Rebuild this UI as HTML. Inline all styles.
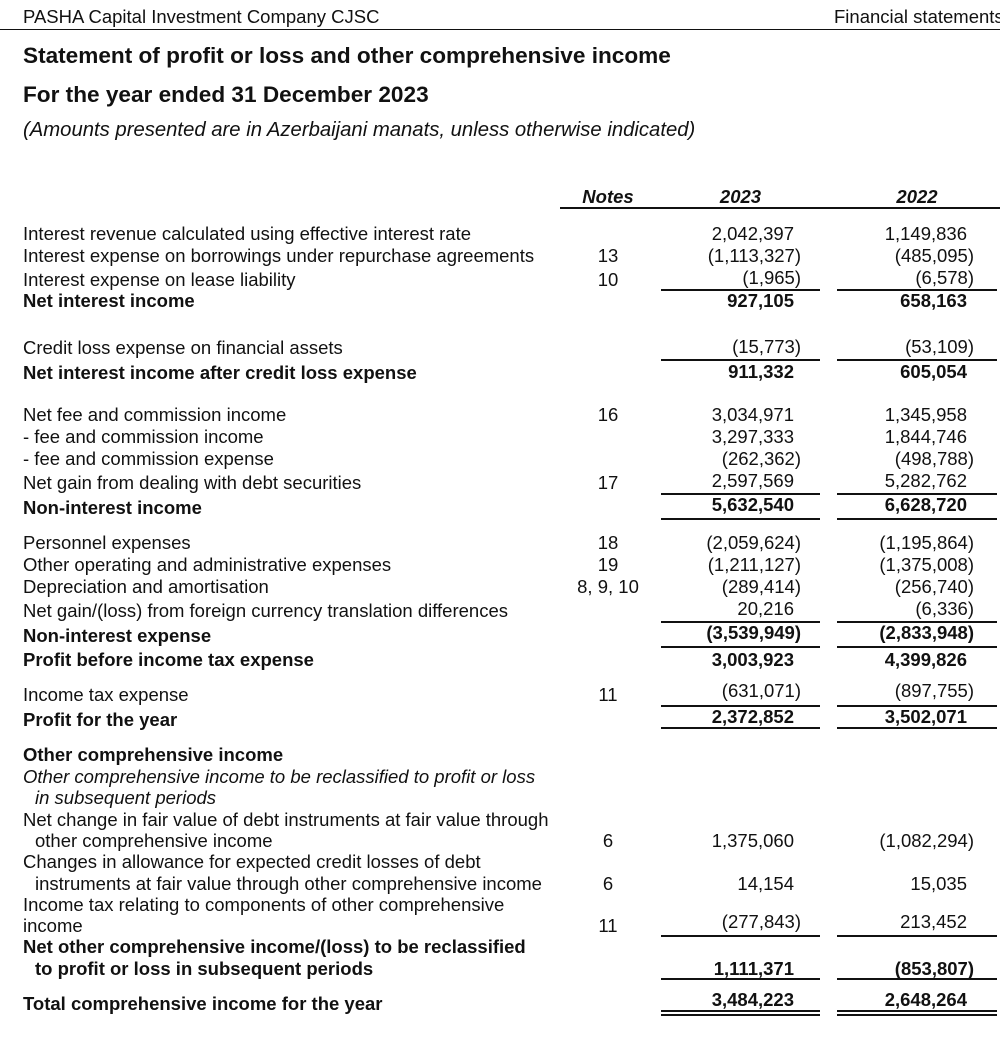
<!DOCTYPE html>
<html><head><meta charset="utf-8"><style>
body{margin:0;width:1000px;height:1061px;background:#fff;position:relative;overflow:hidden;font-family:"Liberation Sans",Arial,sans-serif;color:#111}
.t{position:absolute;height:20px;line-height:20px;font-size:18.5px;white-space:nowrap}
.l{left:23px}
.n{left:570px;width:76px;text-align:center}
.a{right:199px;text-align:right}
.b{right:26px;text-align:right}
.q{padding-right:7px}
.B{font-weight:bold}
.I{font-style:italic}
.h{position:absolute;height:2px;background:#111}
.c1{left:661px;width:159px}
.c2{left:837px;width:160px}
</style></head><body>
<div class="t" style="left:23px;top:7px;font-size:18.5px">PASHA Capital Investment Company CJSC</div>
<div class="t" style="left:834px;top:7px;font-size:18.5px">Financial statements</div>
<div class="h" style="left:0;top:29px;width:1000px;height:1px"></div>
<div class="t B" style="left:23px;top:44px;font-size:22.6px;height:24px;line-height:24px">Statement of profit or loss and other comprehensive income</div>
<div class="t B" style="left:23px;top:83px;font-size:22.6px;height:24px;line-height:24px">For the year ended 31 December 2023</div>
<div class="t I" style="left:23px;top:120px;font-size:20.3px">(Amounts presented are in Azerbaijani manats, unless otherwise indicated)</div>

<div class="t n B I" style="top:187px">Notes</div>
<div class="t B I" style="left:661px;width:159px;text-align:center;top:187px">2023</div>
<div class="t B I" style="left:837px;width:160px;text-align:center;top:187px">2022</div>
<div class="h" style="left:560px;top:207px;width:440px"></div>

<div class="t l" style="top:224px">Interest revenue calculated using effective interest rate</div>
<div class="t a q" style="top:224px">2,042,397</div><div class="t b q" style="top:224px">1,149,836</div>
<div class="t l" style="top:246px">Interest expense on borrowings under repurchase agreements</div>
<div class="t n" style="top:246px">13</div>
<div class="t a" style="top:246px">(1,113,327)</div><div class="t b" style="top:246px">(485,095)</div>
<div class="t l" style="top:270px">Interest expense on lease liability</div>
<div class="t n" style="top:270px">10</div>
<div class="t a" style="top:268px">(1,965)</div><div class="t b" style="top:268px">(6,578)</div>
<div class="h c1" style="top:289px"></div><div class="h c2" style="top:289px"></div>
<div class="t l B" style="top:291px">Net interest income</div>
<div class="t a B q" style="top:291px">927,105</div><div class="t b B q" style="top:291px">658,163</div>

<div class="t l" style="top:338px">Credit loss expense on financial assets</div>
<div class="t a" style="top:337px">(15,773)</div><div class="t b" style="top:337px">(53,109)</div>
<div class="h c1" style="top:359px"></div><div class="h c2" style="top:359px"></div>
<div class="t l B" style="top:363px">Net interest income after credit loss expense</div>
<div class="t a B q" style="top:362px">911,332</div><div class="t b B q" style="top:362px">605,054</div>

<div class="t l" style="top:405px">Net fee and commission income</div>
<div class="t n" style="top:405px">16</div>
<div class="t a q" style="top:405px">3,034,971</div><div class="t b q" style="top:405px">1,345,958</div>
<div class="t l" style="top:427px">- fee and commission income</div>
<div class="t a q" style="top:427px">3,297,333</div><div class="t b q" style="top:427px">1,844,746</div>
<div class="t l" style="top:449px">- fee and commission expense</div>
<div class="t a" style="top:449px">(262,362)</div><div class="t b" style="top:449px">(498,788)</div>
<div class="t l" style="top:473px">Net gain from dealing with debt securities</div>
<div class="t n" style="top:473px">17</div>
<div class="t a q" style="top:471px">2,597,569</div><div class="t b q" style="top:471px">5,282,762</div>
<div class="h c1" style="top:493px"></div><div class="h c2" style="top:493px"></div>
<div class="t l B" style="top:498px">Non-interest income</div>
<div class="t a B q" style="top:495px">5,632,540</div><div class="t b B q" style="top:495px">6,628,720</div>
<div class="h c1" style="top:518px"></div><div class="h c2" style="top:518px"></div>

<div class="t l" style="top:533px">Personnel expenses</div>
<div class="t n" style="top:533px">18</div>
<div class="t a" style="top:533px">(2,059,624)</div><div class="t b" style="top:533px">(1,195,864)</div>
<div class="t l" style="top:555px">Other operating and administrative expenses</div>
<div class="t n" style="top:555px">19</div>
<div class="t a" style="top:555px">(1,211,127)</div><div class="t b" style="top:555px">(1,375,008)</div>
<div class="t l" style="top:577px">Depreciation and amortisation</div>
<div class="t n" style="top:577px">8, 9, 10</div>
<div class="t a" style="top:577px">(289,414)</div><div class="t b" style="top:577px">(256,740)</div>
<div class="t l" style="top:601px">Net gain/(loss) from foreign currency translation differences</div>
<div class="t a q" style="top:599px">20,216</div><div class="t b" style="top:599px">(6,336)</div>
<div class="h c1" style="top:621px"></div><div class="h c2" style="top:621px"></div>
<div class="t l B" style="top:626px">Non-interest expense</div>
<div class="t a B" style="top:623px">(3,539,949)</div><div class="t b B" style="top:623px">(2,833,948)</div>
<div class="h c1" style="top:646px"></div><div class="h c2" style="top:646px"></div>
<div class="t l B" style="top:650px">Profit before income tax expense</div>
<div class="t a B q" style="top:650px">3,003,923</div><div class="t b B q" style="top:650px">4,399,826</div>

<div class="t l" style="top:685px">Income tax expense</div>
<div class="t n" style="top:685px">11</div>
<div class="t a" style="top:681px">(631,071)</div><div class="t b" style="top:681px">(897,755)</div>
<div class="h c1" style="top:705px"></div><div class="h c2" style="top:705px"></div>
<div class="t l B" style="top:710px">Profit for the year</div>
<div class="t a B q" style="top:707px">2,372,852</div><div class="t b B q" style="top:707px">3,502,071</div>
<div class="h c1" style="top:727px"></div><div class="h c2" style="top:727px"></div>

<div class="t l B" style="top:745px">Other comprehensive income</div>
<div class="t l I" style="top:767px">Other comprehensive income to be reclassified to profit or loss</div>
<div class="t I" style="left:35px;top:788px">in subsequent periods</div>
<div class="t l" style="top:810px">Net change in fair value of debt instruments at fair value through</div>
<div class="t" style="left:35px;top:831px">other comprehensive income</div>
<div class="t n" style="top:831px">6</div>
<div class="t a q" style="top:831px">1,375,060</div><div class="t b" style="top:831px">(1,082,294)</div>
<div class="t l" style="top:852px">Changes in allowance for expected credit losses of debt</div>
<div class="t" style="left:35px;top:874px">instruments at fair value through other comprehensive income</div>
<div class="t n" style="top:874px">6</div>
<div class="t a q" style="top:874px">14,154</div><div class="t b q" style="top:874px">15,035</div>
<div class="t l" style="top:895px">Income tax relating to components of other comprehensive</div>
<div class="t" style="left:23px;top:916px">income</div>
<div class="t n" style="top:916px">11</div>
<div class="t a" style="top:912px">(277,843)</div><div class="t b q" style="top:912px">213,452</div>
<div class="h c1" style="top:935px"></div><div class="h c2" style="top:935px"></div>
<div class="t l B" style="top:937px">Net other comprehensive income/(loss) to be reclassified</div>
<div class="t B" style="left:35px;top:959px">to profit or loss in subsequent periods</div>
<div class="t a B q" style="top:959px">1,111,371</div><div class="t b B" style="top:959px">(853,807)</div>
<div class="h c1" style="top:978px"></div><div class="h c2" style="top:978px"></div>
<div class="t l B" style="top:994px">Total comprehensive income for the year</div>
<div class="t a B q" style="top:990px">3,484,223</div><div class="t b B q" style="top:990px">2,648,264</div>
<div class="h c1" style="top:1010px"></div><div class="h c2" style="top:1010px"></div>
<div class="h c1" style="top:1014px"></div><div class="h c2" style="top:1014px"></div>
</body></html>
